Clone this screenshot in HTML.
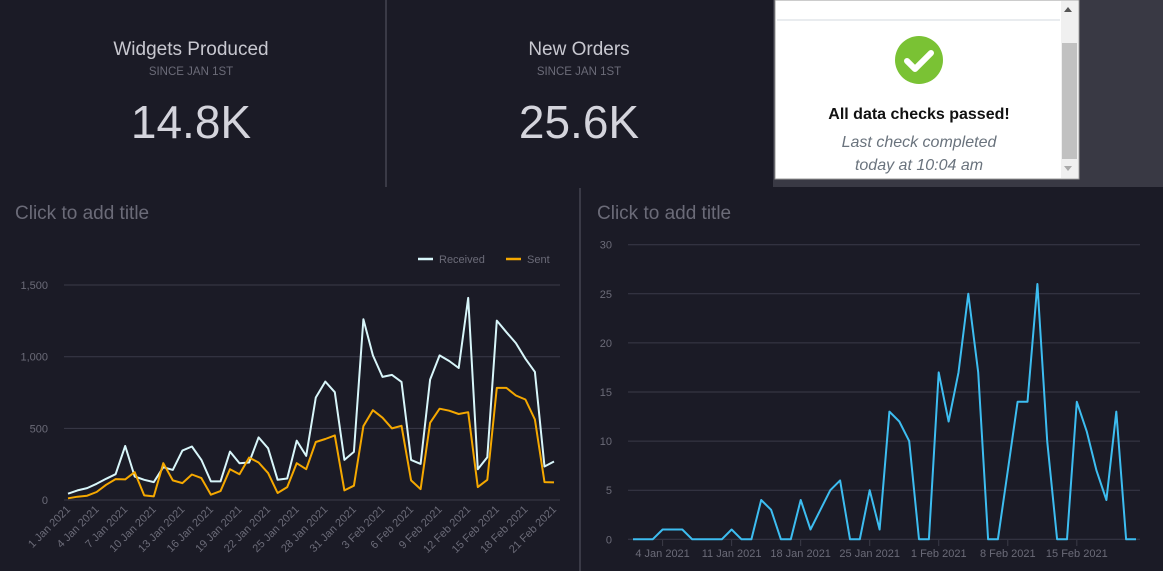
<!DOCTYPE html>
<html><head><meta charset="utf-8"><style>
html,body{margin:0;padding:0;background:#1b1b26;width:1163px;height:571px;overflow:hidden;font-family:"Liberation Sans",sans-serif}
svg{display:block}
</style></head><body>
<svg id="s" width="1163" height="571" xmlns="http://www.w3.org/2000/svg" font-family="Liberation Sans, sans-serif">
<rect width="1163" height="571" fill="#1b1b26"/>
<rect x="773" y="0" width="390" height="187" fill="#393944"/>
<line x1="386" y1="0" x2="386" y2="187" stroke="#3a3a46" stroke-width="2"/>
<line x1="580" y1="188" x2="580" y2="571" stroke="#3a3a46" stroke-width="2"/>
<text x="191" y="55" fill="#c8c8d0" font-size="19" text-anchor="middle">Widgets Produced</text>
<text x="191" y="75" fill="#6b6b78" font-size="11.5" text-anchor="middle">SINCE JAN 1ST</text>
<text x="191" y="138" fill="#d4d4dc" font-size="46" text-anchor="middle">14.8K</text>
<text x="579" y="55" fill="#c8c8d0" font-size="19" text-anchor="middle">New Orders</text>
<text x="579" y="75" fill="#6b6b78" font-size="11.5" text-anchor="middle">SINCE JAN 1ST</text>
<text x="579" y="138" fill="#d4d4dc" font-size="46" text-anchor="middle">25.6K</text>
<rect x="775" y="0" width="304" height="179" fill="#fff" stroke="#999" stroke-width="1"/>
<line x1="777" y1="20" x2="1060" y2="20" stroke="#e2e6ea" stroke-width="1.5"/>
<rect x="1061" y="1" width="17" height="177" fill="#f0f0f0"/>
<rect x="1062" y="43" width="15" height="116" fill="#c1c1c1"/>
<path d="M1064 12 L1068 7 L1072 12Z" fill="#555"/>
<path d="M1064 166 L1068 171 L1072 166Z" fill="#aaa"/>
<circle cx="919" cy="60" r="24" fill="#7ac234"/>
<path d="M907 61 L915 69 L931 53" fill="none" stroke="#fff" stroke-width="6" stroke-linecap="round" stroke-linejoin="round"/>
<text x="919" y="119" fill="#111" font-size="16" font-weight="bold" text-anchor="middle">All data checks passed!</text>
<text x="919" y="147" fill="#6a737d" font-size="16" font-style="italic" text-anchor="middle">Last check completed</text>
<text x="919" y="170" fill="#6a737d" font-size="16" font-style="italic" text-anchor="middle">today at 10:04 am</text>
<text x="15" y="219" fill="#6b6b78" font-size="19">Click to add title</text>
<text x="597" y="219" fill="#6b6b78" font-size="19">Click to add title</text>
<g id="L"></g><g id="R"></g>
</svg>
<script>
var NS="http://www.w3.org/2000/svg";
function el(p,t,a,txt){var e=document.createElementNS(NS,t);for(var k in a)e.setAttribute(k,a[k]);if(txt!=null)e.textContent=txt;p.appendChild(e);return e;}
var L=document.getElementById("L"),R=document.getElementById("R");
var rec=[44,67,83,113,148,180,377,164,141,125,229,210,345,373,280,130,130,338,257,262,437,361,141,150,414,308,715,826,752,280,336,1262,1009,859,873,824,280,252,840,1009,970,921,1410,215,299,1252,1171,1095,986,894,234,269];
var sent=[12,23,30,56,106,146,144,194,32,25,257,137,118,178,153,37,62,215,180,296,262,188,49,90,257,215,405,426,451,67,100,516,627,574,500,518,137,76,539,637,623,600,613,90,141,782,782,729,701,562,125,123];
function lx(i){return 68+i*(486/51);} function ly(v){return 500-v*0.1433;}
[0,500,1000,1500].forEach(function(v){var y=ly(v);el(L,"line",{x1:64,x2:560,y1:y,y2:y,stroke:"#3b3b48","stroke-width":1});el(L,"text",{x:48,y:y+4,fill:"#6b6b78","font-size":11,"text-anchor":"end"},v.toLocaleString("en-US"));});
for(var i=0;i<52;i+=3){var d=i<31?(i+1)+" Jan 2021":(i-30)+" Feb 2021";var x=lx(i)+3,y=510;el(L,"text",{x:x,y:y,fill:"#6b6b78","font-size":11,"text-anchor":"end",transform:"rotate(-45 "+x+" "+y+")"},d);}
function pl(p,a,fx,fy,c){el(p,"polyline",{points:a.map(function(v,i){return fx(i).toFixed(1)+","+fy(v).toFixed(1)}).join(" "),fill:"none",stroke:c,"stroke-width":2,"stroke-linejoin":"round"});}
pl(L,rec,lx,ly,"#d8f6fa");pl(L,sent,lx,ly,"#f5a800");
el(L,"line",{x1:418,x2:433,y1:259,y2:259,stroke:"#d8f6fa","stroke-width":2.5});
el(L,"text",{x:439,y:263,fill:"#6b6b78","font-size":11},"Received");
el(L,"line",{x1:506,x2:521,y1:259,y2:259,stroke:"#f5a800","stroke-width":2.5});
el(L,"text",{x:527,y:263,fill:"#6b6b78","font-size":11},"Sent");
var r=[0,0,0,1,1,1,0,0,0,0,1,0,0,4,3,0,0,4,1,3,5,6,0,0,5,1,13,12,10,0,0,17,12,17,25,17,0,0,7,14,14,26,10,0,0,14,11,7,4,13,0,0];
function rx(i){return 633+i*(503/51);} function ry(v){return 539.3-v*9.82;}
for(var v=0;v<=30;v+=5){var y=ry(v);el(R,"line",{x1:628,x2:1140,y1:y,y2:y,stroke:"#3b3b48","stroke-width":1});el(R,"text",{x:612,y:y+4,fill:"#6b6b78","font-size":11,"text-anchor":"end"},v);}
["4 Jan 2021","11 Jan 2021","18 Jan 2021","25 Jan 2021","1 Feb 2021","8 Feb 2021","15 Feb 2021"].forEach(function(t,k){var x=rx(3+7*k);el(R,"line",{x1:x,x2:x,y1:540,y2:546,stroke:"#3b3b48"});el(R,"text",{x:x,y:557,fill:"#6b6b78","font-size":11,"text-anchor":"middle"},t);});
pl(R,r,rx,ry,"#3dbdf0");
</script>
</body></html>
